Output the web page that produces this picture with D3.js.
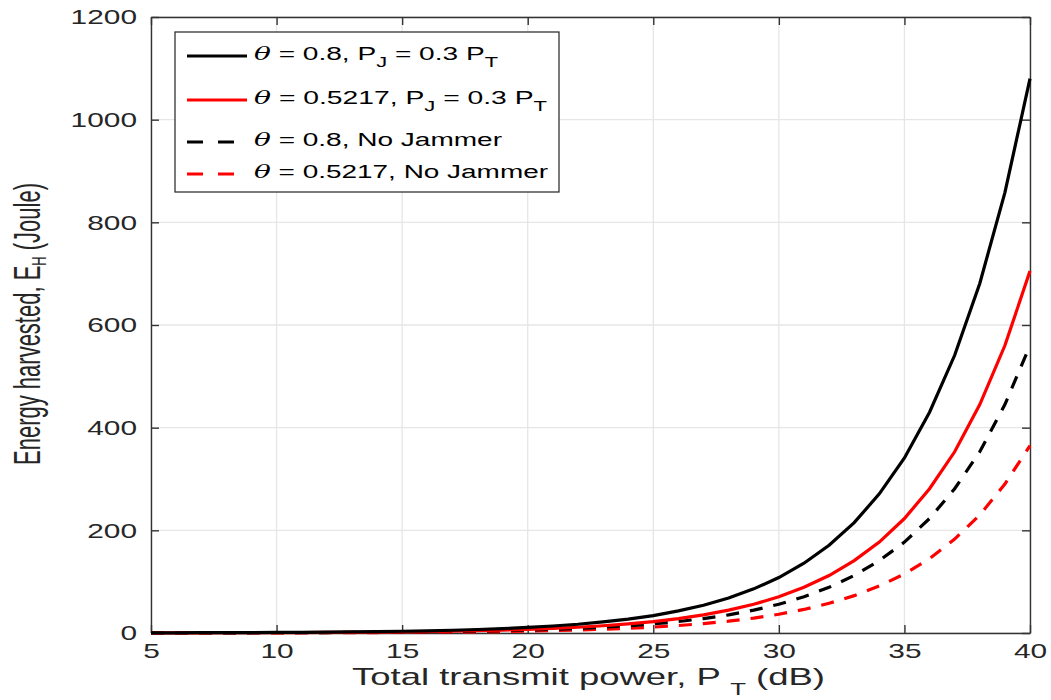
<!DOCTYPE html>
<html><head><meta charset="utf-8">
<script src="https://cdn.jsdelivr.net/npm/d3@7"></script>
<style>body{margin:0;background:#fff;} text{font-family:"Liberation Sans",Arial,sans-serif;}</style>
</head><body><svg id="c" width="1051" height="700"></svg>
<script>
const powerDb = [5,6,7,8,9,10,11,12,13,14,15,16,17,18,19,20,21,22,23,24,25,26,27,28,29,30,31,32,33,34,35,36,37,38,39,40];
const solidBlack = [0.34,0.43,0.54,0.68,0.86,1.1,1.4,1.7,2.2,2.7,3.4,4.3,5.4,6.8,8.6,10.8,13.6,17,21.5,27,34,43,54,68,86,108,136,171,215,271,341,430,541,681,858,1080];
const solidRed = [0.22,0.28,0.35,0.44,0.56,0.7,0.89,1.1,1.4,1.8,2.2,2.8,3.5,4.4,5.6,7.1,8.9,11.2,14.1,17.7,22.3,28.1,35.3,44.5,56,70.5,89,112,141,177,223,281,353,445,560,705];
const dashedBlack = [0.18,0.22,0.28,0.35,0.45,0.56,0.71,0.89,1.1,1.4,1.8,2.2,2.8,3.5,4.5,5.6,7.1,8.9,11.2,14.1,17.7,22.3,28.1,35.3,44.5,56,70.6,89,112,141,177,223,281,353,445,560];
const dashedRed = [0.12,0.15,0.18,0.23,0.29,0.37,0.46,0.58,0.73,0.92,1.2,1.5,1.8,2.3,2.9,3.7,4.6,5.8,7.3,9.2,11.5,14.5,18.3,23,29,36.5,45.9,57.8,72.8,91.6,115,145,183,230,290,365];
const xTicks = [5,10,15,20,25,30,35,40];
const yTicks = [0,200,400,600,800,1000,1200];
const thetas = ["0.8","0.5217","0.8","0.5217"];
const series = [
  {vals: solidBlack, color:"#000", dash:null, theta:thetas[0], jam:true},
  {vals: solidRed, color:"#ff0000", dash:null, theta:thetas[1], jam:true},
  {vals: dashedBlack, color:"#000", dash:"13,11", theta:thetas[2], jam:false},
  {vals: dashedRed, color:"#ff0000", dash:"13,11", theta:thetas[3], jam:false}
];

const svg = d3.select("#c");
const L=151, R=1030, T=17, B=633;
const x = d3.scaleLinear().domain([5,40]).range([L,R]);
const y = d3.scaleLinear().domain([0,1200]).range([B,T]);
const CW = 16.6; // stretched digit width

// grid
const g = svg.append("g");
g.selectAll(".gx").data(xTicks).enter().append("line")
  .attr("x1",d=>x(d)).attr("x2",d=>x(d)).attr("y1",T).attr("y2",B)
  .attr("stroke","#e6e6e6").attr("stroke-width",1.3);
g.selectAll(".gy").data(yTicks).enter().append("line")
  .attr("y1",d=>y(d)).attr("y2",d=>y(d)).attr("x1",L).attr("x2",R)
  .attr("stroke","#e6e6e6").attr("stroke-width",1.3);

// axes
const fmt = d3.format("d");
const axB = d3.axisBottom(x).tickValues(xTicks).tickSizeInner(-8).tickSizeOuter(0).tickPadding(10).tickFormat(fmt);
const axL = d3.axisLeft(y).tickValues(yTicks).tickSizeInner(-8).tickSizeOuter(0).tickPadding(14).tickFormat(fmt);
const axT = d3.axisTop(x).tickValues(xTicks).tickSizeInner(-8).tickSizeOuter(0).tickFormat("");
const axR = d3.axisRight(y).tickValues(yTicks).tickSizeInner(-8).tickSizeOuter(0).tickFormat("");
function style(sel){
  sel.selectAll("path").attr("stroke","#333").attr("stroke-width",1.4);
  sel.selectAll("line").attr("stroke","#333").attr("stroke-width",1.4);
  sel.selectAll("text").attr("fill","#262626").style("font-size","21px")
    .style("font-family","'Liberation Sans',Arial,sans-serif")
    .attr("lengthAdjust","spacingAndGlyphs")
    .attr("textLength",function(){return this.textContent.length*CW;});
}
style(svg.append("g").attr("transform",`translate(0,${B})`).call(axB));
style(svg.append("g").attr("transform",`translate(${L},0)`).call(axL));
style(svg.append("g").attr("transform",`translate(0,${T})`).call(axT));
style(svg.append("g").attr("transform",`translate(${R},0)`).call(axR));

// lines
const line = d3.line().x((d,i)=>x(powerDb[i])).y(d=>y(d));
series.slice().reverse().forEach(s=>{
  svg.append("path").datum(s.vals).attr("d",line).attr("fill","none")
    .attr("stroke",s.color).attr("stroke-width",3.2)
    .attr("stroke-dasharray",s.dash);
});

// legend
const lg = svg.append("g");
lg.append("rect").attr("x",175).attr("y",32).attr("width",384).attr("height",160)
  .attr("fill","#fff").attr("stroke","#333").attr("stroke-width",1.3);
const rowsY=[60,104,146,178];
const rowLen=[244,293,248,294];
series.forEach((s,i)=>{
  const ry=rowsY[i];
  lg.append("line").attr("x1",187).attr("x2",247).attr("y1",ry-4).attr("y2",ry-4)
    .attr("stroke",s.color).attr("stroke-width",3).attr("stroke-dasharray",s.dash?"16,15":null);
  const t = lg.append("text").attr("x",254).attr("y",ry).attr("fill","#000").style("font-size","18px")
    .attr("lengthAdjust","spacingAndGlyphs").attr("textLength",rowLen[i]);
  t.append("tspan").text("θ").style("font-family","'DejaVu Serif',serif").style("font-style","italic");
  t.append("tspan").text(" = "+s.theta+", ");
  if(s.jam){
    t.append("tspan").text("P");
    t.append("tspan").text("J").attr("dy",7).style("font-size","14px");
    t.append("tspan").text(" = 0.3 P").attr("dy",-7);
    t.append("tspan").text("T").attr("dy",7).style("font-size","14px");
  } else {
    t.append("tspan").text("No Jammer");
  }
});

// x label
const xl = svg.append("text").attr("x",352).attr("y",685).attr("fill","#262626").style("font-size","24px")
  .attr("lengthAdjust","spacingAndGlyphs").attr("textLength",473);
xl.append("tspan").text("Total transmit power, P ");
xl.append("tspan").text("T").attr("dy",10).style("font-size","17px");
xl.append("tspan").text(" (dB)").attr("dy",-10);

// y label
const yl = svg.append("text").attr("transform","translate(40,465) rotate(-90)").attr("fill","#262626").style("font-size","36px")
  .attr("lengthAdjust","spacingAndGlyphs").attr("textLength",282);
yl.append("tspan").text("Energy harvested, E");
yl.append("tspan").text("H").attr("dy",6).style("font-size","21px");
yl.append("tspan").text(" (Joule)").attr("dy",-6);
</script></body></html>
